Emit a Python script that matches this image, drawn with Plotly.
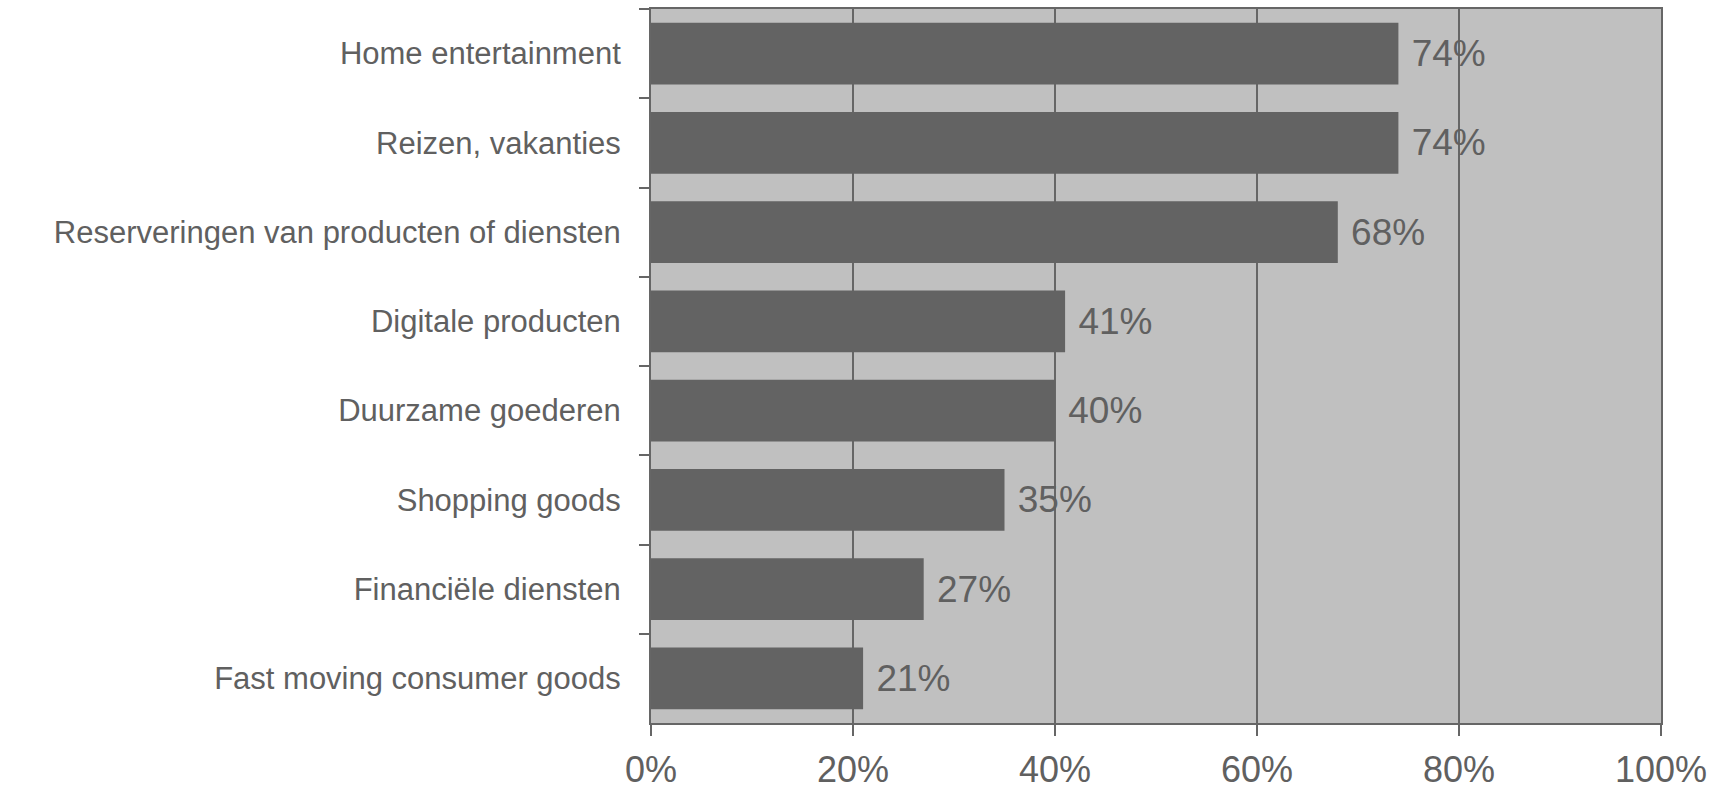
import plotly.graph_objects as go

categories = [
    "Home entertainment",
    "Reizen, vakanties",
    "Reserveringen van producten of diensten",
    "Digitale producten",
    "Duurzame goederen",
    "Shopping goods",
    "Financiële diensten",
    "Fast moving consumer goods",
]
values = [74, 74, 68, 41, 40, 35, 27, 21]
tick_vals = [0, 20, 40, 60, 80, 100]
tick_text = ["0%", "20%", "40%", "60%", "80%", "100%"]

TEXT = "#606060"
FONT = "Liberation Sans, Arial, sans-serif"

fig = go.Figure(
    go.Bar(
        x=values,
        y=categories,
        orientation="h",
        marker=dict(color="#636363", line=dict(width=0)),
        text=[f"\u00a0{v}%" for v in values],
        textposition="outside",
        textfont=dict(family=FONT, size=37, color=TEXT),
        cliponaxis=False,
        width=0.69,
    )
)

fig.update_layout(
    width=1733,
    height=791,
    margin=dict(l=651, r=72, t=9, b=68, autoexpand=False),
    paper_bgcolor="white",
    plot_bgcolor="#c0c0c0",
    showlegend=False,
    font=dict(family=FONT, color=TEXT),
)

fig.update_xaxes(
    range=[0, 100],
    tickvals=tick_vals,
    ticktext=tick_text,
    tickfont=dict(family=FONT, size=36, color=TEXT),
    showgrid=True,
    gridcolor="#666666",
    gridwidth=2,
    zeroline=False,
    showline=True,
    linecolor="#666666",
    linewidth=2,
    mirror=True,
    ticks="outside",
    ticklen=11,
    tickwidth=2,
    tickcolor="#666666",
    ticklabelstandoff=3,
    automargin=False,
    fixedrange=True,
)

fig.update_yaxes(
    autorange="reversed",
    tickfont=dict(family=FONT, size=31, color=TEXT),
    showgrid=False,
    zeroline=False,
    showline=True,
    linecolor="#666666",
    linewidth=2,
    mirror=True,
    ticks="outside",
    tickson="boundaries",
    ticklen=10,
    tickwidth=2,
    tickcolor="#666666",
    ticklabelstandoff=22,
    automargin=False,
    fixedrange=True,
)

fig.write_html("out.html")
